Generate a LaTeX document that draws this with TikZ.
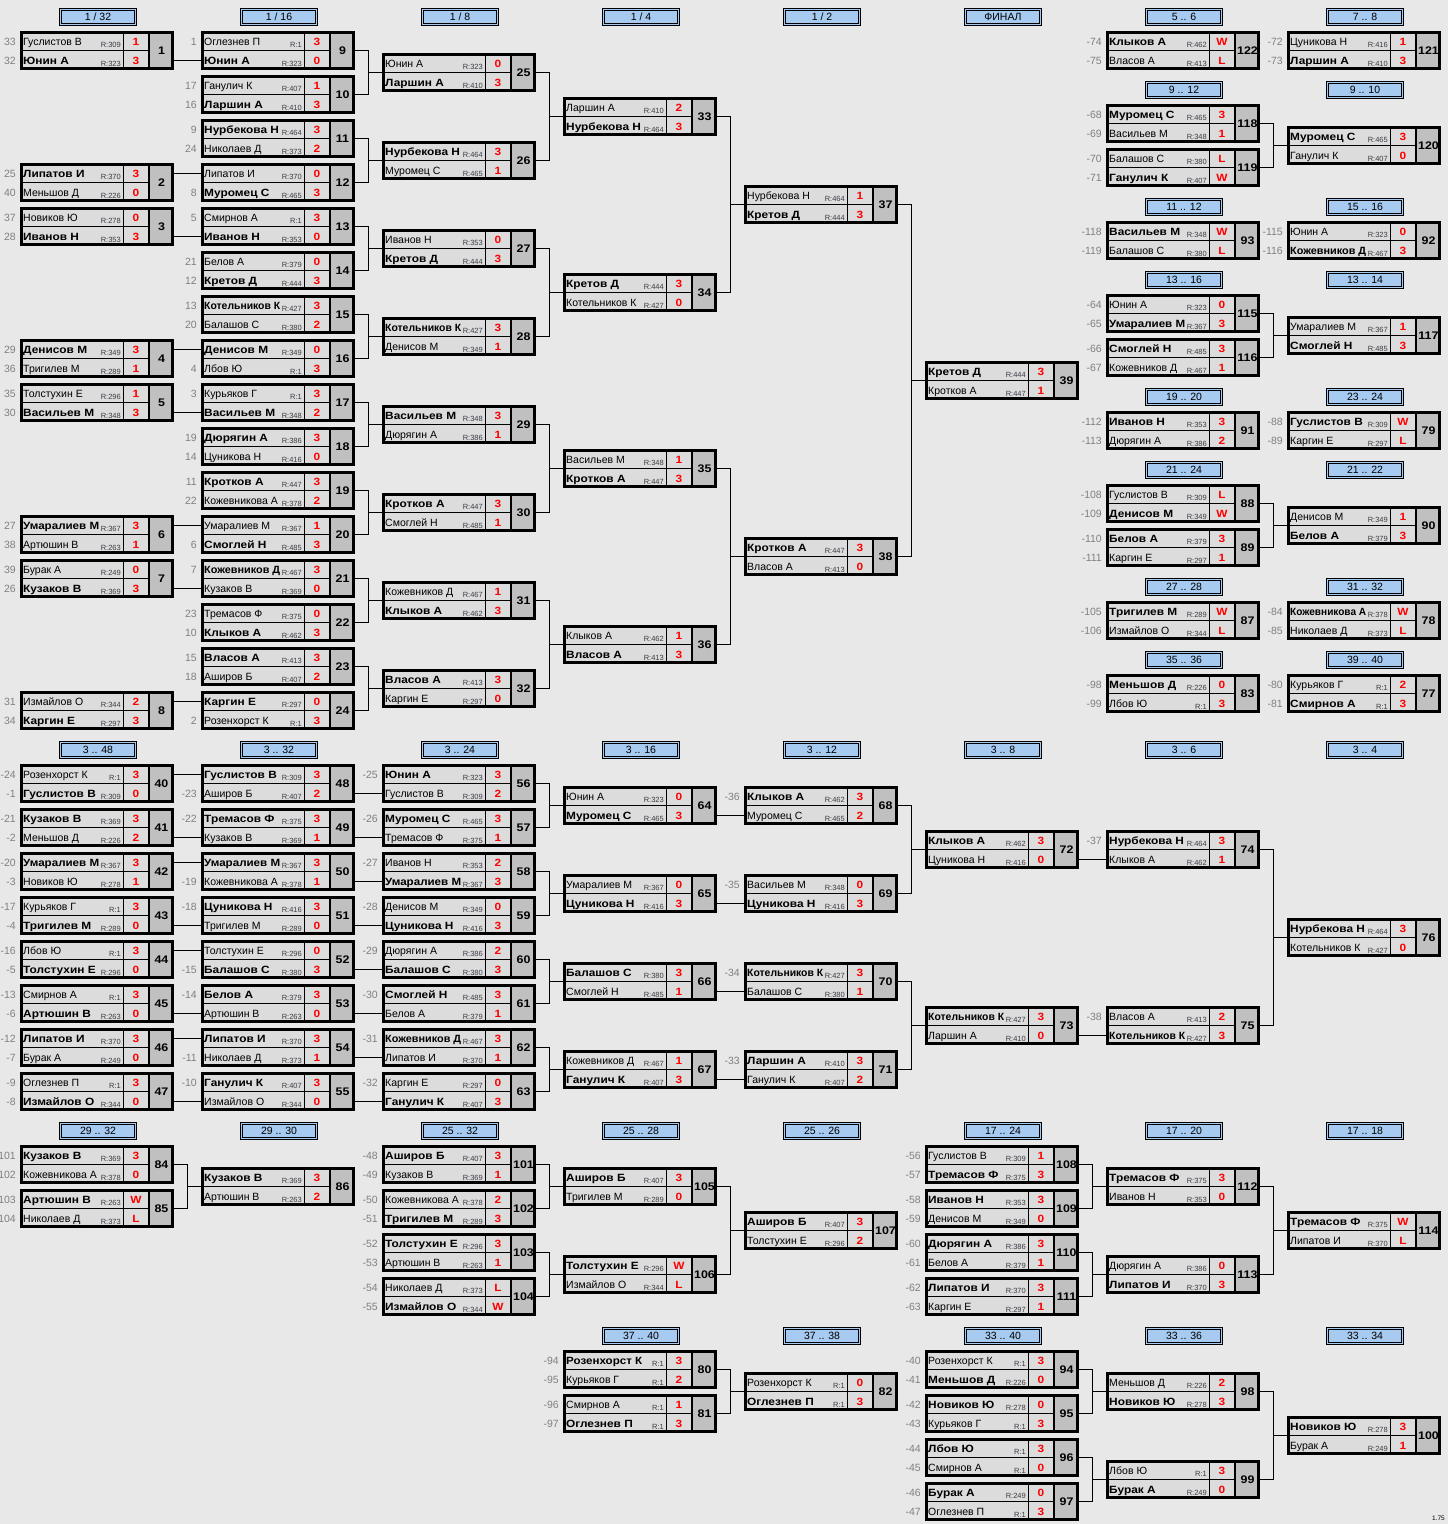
\documentclass[tikz,border=0pt]{standalone}
\usepackage{graphicx}
\usepackage{fontspec}
\setmainfont{Liberation Sans}[BoldFeatures={FakeStretch=1.13}]
\definecolor{bg}{HTML}{E8E8E8}
\definecolor{cellgray}{HTML}{DCDCDC}
\definecolor{numgray}{HTML}{C0C0C0}
\definecolor{skyblue}{HTML}{A6CAF0}
\definecolor{seedgray}{HTML}{808080}
\definecolor{ratecol}{HTML}{3C3C46}
\tikzset{
  wire/.style={line width=1pt},
  mbox/.style={minimum width=154pt, minimum height=39pt, inner sep=0pt, outer sep=0pt},
  hbox/.style={draw=black, line width=0.7pt, double=skyblue, double distance=1.4pt, fill=skyblue,
    minimum width=75.5pt, minimum height=15.5pt, inner sep=0pt, font=\fontsize{10.5}{12}\selectfont},
  seedlbl/.style={anchor=base east, inner sep=0pt, text=seedgray, font=\fontsize{10.5}{12}\selectfont},
  namelbl/.style={anchor=base west, inner sep=0pt, font=\fontsize{10.5}{12}\selectfont},
  ratelbl/.style={anchor=base east, inner sep=0pt, text=ratecol, font=\fontsize{7.5}{8}\selectfont},
  scorelbl/.style={anchor=base, inner sep=0pt, text=red, font=\fontsize{10.5}{12}\selectfont\bfseries},
  numlbl/.style={inner sep=0pt, font=\fontsize{11}{12}\selectfont\bfseries}
}
\newsavebox{\nmbox}
\newcommand{\fitname}[1]{\sbox{\nmbox}{#1}\ifdim\wd\nmbox>76pt\resizebox{76pt}{\height}{\usebox{\nmbox}}\else\usebox{\nmbox}\fi}
\newcommand{\mtc}[3]{
\fill[cellgray] (#2,#3) rectangle ++(129,39);
\fill[numgray] (#2+129,#3) rectangle ++(25,39);
\draw[line width=0.8pt] (#2,#3+19.5) -- ++(129,0);
\draw[line width=0.8pt] (#2+103,#3) -- ++(0,39);
\draw[line width=1.4pt] (#2+129,#3) -- ++(0,39);
\draw[line width=2.6pt] (#2+1.3,#3+1.3) rectangle ++(151.4,36.4);
\node[mbox] (m#1) at (#2+77,#3+19.5) {};
\node[numlbl] at (#2+141.5,#3+19.5) {#1};
\coordinate (m#1a) at (#2,#3+10.5);
\coordinate (m#1b) at (#2,#3+29.5);}
\newcommand{\plr}[6]{
\node[seedlbl] at ([xshift=-4pt,yshift=-4.3pt]m#1#2) {#3};
\node[namelbl] at ([xshift=3pt,yshift=-4.3pt]m#1#2) {\fitname{#4}};
\node[ratelbl] at ([xshift=101pt,yshift=-6.2pt]m#1#2) {R:#5};
\node[scorelbl] at ([xshift=116pt,yshift=-4.3pt]m#1#2) {#6};}
\newcommand{\plw}[6]{\plr{#1}{#2}{#3}{\textbf{#4}}{#5}{#6}}
\newcommand{\hdr}[4]{\node[hbox] (#1) at (#2+78,#3+9) {#4};}
\newcommand{\brk}[3]{
\draw[wire] (m#1.east) -- ++(13.5,0) |- (m#3.west);
\draw[wire] (m#2.east) -- ++(13.5,0) |- (m#3.west);}
\newcommand{\feed}[2]{\draw[wire] (m#1.east |- m#2) -- (m#2);}
\begin{document}
\begin{tikzpicture}[x=1pt,y=-1pt]
\fill[bg] (0,0) rectangle (1448,1524);
\useasboundingbox (0,0) rectangle (1448,1524);

\hdr{hA1}{20}{8}{1 / 32}
\hdr{hA2}{201}{8}{1 / 16}
\hdr{hA3}{382}{8}{1 / 8}
\hdr{hA4}{563}{8}{1 / 4}
\hdr{hA5}{744}{8}{1 / 2}
\hdr{hA6}{925}{8}{ФИНАЛ}
\hdr{hA7}{1106}{8}{5 .. 6}
\hdr{hA8}{1287}{8}{7 .. 8}
\hdr{hB7}{1106}{81}{9 .. 12}
\hdr{hB8}{1287}{81}{9 .. 10}
\hdr{hC7}{1106}{198}{11 .. 12}
\hdr{hC8}{1287}{198}{15 .. 16}
\hdr{hD7}{1106}{271}{13 .. 16}
\hdr{hD8}{1287}{271}{13 .. 14}
\hdr{hE7}{1106}{388}{19 .. 20}
\hdr{hE8}{1287}{388}{23 .. 24}
\hdr{hF7}{1106}{461}{21 .. 24}
\hdr{hF8}{1287}{461}{21 .. 22}
\hdr{hG7}{1106}{578}{27 .. 28}
\hdr{hG8}{1287}{578}{31 .. 32}
\hdr{hH7}{1106}{651}{35 .. 36}
\hdr{hH8}{1287}{651}{39 .. 40}
\hdr{hK1}{20}{741}{3 .. 48}
\hdr{hK2}{201}{741}{3 .. 32}
\hdr{hK3}{382}{741}{3 .. 24}
\hdr{hK4}{563}{741}{3 .. 16}
\hdr{hK5}{744}{741}{3 .. 12}
\hdr{hK6}{925}{741}{3 .. 8}
\hdr{hK7}{1106}{741}{3 .. 6}
\hdr{hK8}{1287}{741}{3 .. 4}
\hdr{hL1}{20}{1122}{29 .. 32}
\hdr{hL2}{201}{1122}{29 .. 30}
\hdr{hL3}{382}{1122}{25 .. 32}
\hdr{hL4}{563}{1122}{25 .. 28}
\hdr{hL5}{744}{1122}{25 .. 26}
\hdr{hL6}{925}{1122}{17 .. 24}
\hdr{hL7}{1106}{1122}{17 .. 20}
\hdr{hL8}{1287}{1122}{17 .. 18}
\hdr{hM4}{563}{1327}{37 .. 40}
\hdr{hM5}{744}{1327}{37 .. 38}
\hdr{hM6}{925}{1327}{33 .. 40}
\hdr{hM7}{1106}{1327}{33 .. 36}
\hdr{hM8}{1287}{1327}{33 .. 34}

\mtc{1}{20}{31}
\plr{1}{a}{33}{Гуслистов В}{309}{1}
\plw{1}{b}{32}{Юнин А}{323}{3}
\mtc{2}{20}{163}
\plw{2}{a}{25}{Липатов И}{370}{3}
\plr{2}{b}{40}{Меньшов Д}{226}{0}
\mtc{3}{20}{207}
\plr{3}{a}{37}{Новиков Ю}{278}{0}
\plw{3}{b}{28}{Иванов Н}{353}{3}
\mtc{4}{20}{339}
\plw{4}{a}{29}{Денисов М}{349}{3}
\plr{4}{b}{36}{Тригилев М}{289}{1}
\mtc{5}{20}{383}
\plr{5}{a}{35}{Толстухин Е}{296}{1}
\plw{5}{b}{30}{Васильев М}{348}{3}
\mtc{6}{20}{515}
\plw{6}{a}{27}{Умаралиев М}{367}{3}
\plr{6}{b}{38}{Артюшин В}{263}{1}
\mtc{7}{20}{559}
\plr{7}{a}{39}{Бурак А}{249}{0}
\plw{7}{b}{26}{Кузаков В}{369}{3}
\mtc{8}{20}{691}
\plr{8}{a}{31}{Измайлов О}{344}{2}
\plw{8}{b}{34}{Каргин Е}{297}{3}

\mtc{9}{201}{31}
\plr{9}{a}{1}{Оглезнев П}{1}{3}
\plw{9}{b}{}{Юнин А}{323}{0}
\mtc{10}{201}{75}
\plr{10}{a}{17}{Ганулич К}{407}{1}
\plw{10}{b}{16}{Ларшин А}{410}{3}
\mtc{11}{201}{119}
\plw{11}{a}{9}{Нурбекова Н}{464}{3}
\plr{11}{b}{24}{Николаев Д}{373}{2}
\mtc{12}{201}{163}
\plr{12}{a}{}{Липатов И}{370}{0}
\plw{12}{b}{8}{Муромец С}{465}{3}
\mtc{13}{201}{207}
\plr{13}{a}{5}{Смирнов А}{1}{3}
\plw{13}{b}{}{Иванов Н}{353}{0}
\mtc{14}{201}{251}
\plr{14}{a}{21}{Белов А}{379}{0}
\plw{14}{b}{12}{Кретов Д}{444}{3}
\mtc{15}{201}{295}
\plw{15}{a}{13}{Котельников К}{427}{3}
\plr{15}{b}{20}{Балашов С}{380}{2}
\mtc{16}{201}{339}
\plw{16}{a}{}{Денисов М}{349}{0}
\plr{16}{b}{4}{Лбов Ю}{1}{3}
\mtc{17}{201}{383}
\plr{17}{a}{3}{Курьяков Г}{1}{3}
\plw{17}{b}{}{Васильев М}{348}{2}
\mtc{18}{201}{427}
\plw{18}{a}{19}{Дюрягин А}{386}{3}
\plr{18}{b}{14}{Цуникова Н}{416}{0}
\mtc{19}{201}{471}
\plw{19}{a}{11}{Кротков А}{447}{3}
\plr{19}{b}{22}{Кожевникова А}{378}{2}
\mtc{20}{201}{515}
\plr{20}{a}{}{Умаралиев М}{367}{1}
\plw{20}{b}{6}{Смоглей Н}{485}{3}
\mtc{21}{201}{559}
\plw{21}{a}{7}{Кожевников Д}{467}{3}
\plr{21}{b}{}{Кузаков В}{369}{0}
\mtc{22}{201}{603}
\plr{22}{a}{23}{Тремасов Ф}{375}{0}
\plw{22}{b}{10}{Клыков А}{462}{3}
\mtc{23}{201}{647}
\plw{23}{a}{15}{Власов А}{413}{3}
\plr{23}{b}{18}{Аширов Б}{407}{2}
\mtc{24}{201}{691}
\plw{24}{a}{}{Каргин Е}{297}{0}
\plr{24}{b}{2}{Розенхорст К}{1}{3}

\mtc{25}{382}{53}
\plr{25}{a}{}{Юнин А}{323}{0}
\plw{25}{b}{}{Ларшин А}{410}{3}
\mtc{26}{382}{141}
\plw{26}{a}{}{Нурбекова Н}{464}{3}
\plr{26}{b}{}{Муромец С}{465}{1}
\mtc{27}{382}{229}
\plr{27}{a}{}{Иванов Н}{353}{0}
\plw{27}{b}{}{Кретов Д}{444}{3}
\mtc{28}{382}{317}
\plw{28}{a}{}{Котельников К}{427}{3}
\plr{28}{b}{}{Денисов М}{349}{1}
\mtc{29}{382}{405}
\plw{29}{a}{}{Васильев М}{348}{3}
\plr{29}{b}{}{Дюрягин А}{386}{1}
\mtc{30}{382}{493}
\plw{30}{a}{}{Кротков А}{447}{3}
\plr{30}{b}{}{Смоглей Н}{485}{1}
\mtc{31}{382}{581}
\plr{31}{a}{}{Кожевников Д}{467}{1}
\plw{31}{b}{}{Клыков А}{462}{3}
\mtc{32}{382}{669}
\plw{32}{a}{}{Власов А}{413}{3}
\plr{32}{b}{}{Каргин Е}{297}{0}

\mtc{33}{563}{97}
\plr{33}{a}{}{Ларшин А}{410}{2}
\plw{33}{b}{}{Нурбекова Н}{464}{3}
\mtc{34}{563}{273}
\plw{34}{a}{}{Кретов Д}{444}{3}
\plr{34}{b}{}{Котельников К}{427}{0}
\mtc{35}{563}{449}
\plr{35}{a}{}{Васильев М}{348}{1}
\plw{35}{b}{}{Кротков А}{447}{3}
\mtc{36}{563}{625}
\plr{36}{a}{}{Клыков А}{462}{1}
\plw{36}{b}{}{Власов А}{413}{3}

\mtc{37}{744}{185}
\plr{37}{a}{}{Нурбекова Н}{464}{1}
\plw{37}{b}{}{Кретов Д}{444}{3}
\mtc{38}{744}{537}
\plw{38}{a}{}{Кротков А}{447}{3}
\plr{38}{b}{}{Власов А}{413}{0}

\mtc{39}{925}{361}
\plw{39}{a}{}{Кретов Д}{444}{3}
\plr{39}{b}{}{Кротков А}{447}{1}

\mtc{122}{1106}{31}
\plw{122}{a}{-74}{Клыков А}{462}{W}
\plr{122}{b}{-75}{Власов А}{413}{L}
\mtc{118}{1106}{104}
\plw{118}{a}{-68}{Муромец С}{465}{3}
\plr{118}{b}{-69}{Васильев М}{348}{1}
\mtc{119}{1106}{148}
\plr{119}{a}{-70}{Балашов С}{380}{L}
\plw{119}{b}{-71}{Ганулич К}{407}{W}
\mtc{93}{1106}{221}
\plw{93}{a}{-118}{Васильев М}{348}{W}
\plr{93}{b}{-119}{Балашов С}{380}{L}
\mtc{115}{1106}{294}
\plr{115}{a}{-64}{Юнин А}{323}{0}
\plw{115}{b}{-65}{Умаралиев М}{367}{3}
\mtc{116}{1106}{338}
\plw{116}{a}{-66}{Смоглей Н}{485}{3}
\plr{116}{b}{-67}{Кожевников Д}{467}{1}
\mtc{91}{1106}{411}
\plw{91}{a}{-112}{Иванов Н}{353}{3}
\plr{91}{b}{-113}{Дюрягин А}{386}{2}
\mtc{88}{1106}{484}
\plr{88}{a}{-108}{Гуслистов В}{309}{L}
\plw{88}{b}{-109}{Денисов М}{349}{W}
\mtc{89}{1106}{528}
\plw{89}{a}{-110}{Белов А}{379}{3}
\plr{89}{b}{-111}{Каргин Е}{297}{1}
\mtc{87}{1106}{601}
\plw{87}{a}{-105}{Тригилев М}{289}{W}
\plr{87}{b}{-106}{Измайлов О}{344}{L}
\mtc{83}{1106}{674}
\plw{83}{a}{-98}{Меньшов Д}{226}{0}
\plr{83}{b}{-99}{Лбов Ю}{1}{3}

\mtc{121}{1287}{31}
\plr{121}{a}{-72}{Цуникова Н}{416}{1}
\plw{121}{b}{-73}{Ларшин А}{410}{3}
\mtc{120}{1287}{126}
\plw{120}{a}{}{Муромец С}{465}{3}
\plr{120}{b}{}{Ганулич К}{407}{0}
\mtc{92}{1287}{221}
\plr{92}{a}{-115}{Юнин А}{323}{0}
\plw{92}{b}{-116}{Кожевников Д}{467}{3}
\mtc{117}{1287}{316}
\plr{117}{a}{}{Умаралиев М}{367}{1}
\plw{117}{b}{}{Смоглей Н}{485}{3}
\mtc{79}{1287}{411}
\plw{79}{a}{-88}{Гуслистов В}{309}{W}
\plr{79}{b}{-89}{Каргин Е}{297}{L}
\mtc{90}{1287}{506}
\plr{90}{a}{}{Денисов М}{349}{1}
\plw{90}{b}{}{Белов А}{379}{3}
\mtc{78}{1287}{601}
\plw{78}{a}{-84}{Кожевникова А}{378}{W}
\plr{78}{b}{-85}{Николаев Д}{373}{L}
\mtc{77}{1287}{674}
\plr{77}{a}{-80}{Курьяков Г}{1}{2}
\plw{77}{b}{-81}{Смирнов А}{1}{3}

\mtc{40}{20}{764}
\plr{40}{a}{-24}{Розенхорст К}{1}{3}
\plw{40}{b}{-1}{Гуслистов В}{309}{0}
\mtc{41}{20}{808}
\plw{41}{a}{-21}{Кузаков В}{369}{3}
\plr{41}{b}{-2}{Меньшов Д}{226}{2}
\mtc{42}{20}{852}
\plw{42}{a}{-20}{Умаралиев М}{367}{3}
\plr{42}{b}{-3}{Новиков Ю}{278}{1}
\mtc{43}{20}{896}
\plr{43}{a}{-17}{Курьяков Г}{1}{3}
\plw{43}{b}{-4}{Тригилев М}{289}{0}
\mtc{44}{20}{940}
\plr{44}{a}{-16}{Лбов Ю}{1}{3}
\plw{44}{b}{-5}{Толстухин Е}{296}{0}
\mtc{45}{20}{984}
\plr{45}{a}{-13}{Смирнов А}{1}{3}
\plw{45}{b}{-6}{Артюшин В}{263}{0}
\mtc{46}{20}{1028}
\plw{46}{a}{-12}{Липатов И}{370}{3}
\plr{46}{b}{-7}{Бурак А}{249}{0}
\mtc{47}{20}{1072}
\plr{47}{a}{-9}{Оглезнев П}{1}{3}
\plw{47}{b}{-8}{Измайлов О}{344}{0}

\mtc{48}{201}{764}
\plw{48}{a}{}{Гуслистов В}{309}{3}
\plr{48}{b}{-23}{Аширов Б}{407}{2}
\mtc{49}{201}{808}
\plw{49}{a}{-22}{Тремасов Ф}{375}{3}
\plr{49}{b}{}{Кузаков В}{369}{1}
\mtc{50}{201}{852}
\plw{50}{a}{}{Умаралиев М}{367}{3}
\plr{50}{b}{-19}{Кожевникова А}{378}{1}
\mtc{51}{201}{896}
\plw{51}{a}{-18}{Цуникова Н}{416}{3}
\plr{51}{b}{}{Тригилев М}{289}{0}
\mtc{52}{201}{940}
\plr{52}{a}{}{Толстухин Е}{296}{0}
\plw{52}{b}{-15}{Балашов С}{380}{3}
\mtc{53}{201}{984}
\plw{53}{a}{-14}{Белов А}{379}{3}
\plr{53}{b}{}{Артюшин В}{263}{0}
\mtc{54}{201}{1028}
\plw{54}{a}{}{Липатов И}{370}{3}
\plr{54}{b}{-11}{Николаев Д}{373}{1}
\mtc{55}{201}{1072}
\plw{55}{a}{-10}{Ганулич К}{407}{3}
\plr{55}{b}{}{Измайлов О}{344}{0}

\mtc{56}{382}{764}
\plw{56}{a}{-25}{Юнин А}{323}{3}
\plr{56}{b}{}{Гуслистов В}{309}{2}
\mtc{57}{382}{808}
\plw{57}{a}{-26}{Муромец С}{465}{3}
\plr{57}{b}{}{Тремасов Ф}{375}{1}
\mtc{58}{382}{852}
\plr{58}{a}{-27}{Иванов Н}{353}{2}
\plw{58}{b}{}{Умаралиев М}{367}{3}
\mtc{59}{382}{896}
\plr{59}{a}{-28}{Денисов М}{349}{0}
\plw{59}{b}{}{Цуникова Н}{416}{3}
\mtc{60}{382}{940}
\plr{60}{a}{-29}{Дюрягин А}{386}{2}
\plw{60}{b}{}{Балашов С}{380}{3}
\mtc{61}{382}{984}
\plw{61}{a}{-30}{Смоглей Н}{485}{3}
\plr{61}{b}{}{Белов А}{379}{1}
\mtc{62}{382}{1028}
\plw{62}{a}{-31}{Кожевников Д}{467}{3}
\plr{62}{b}{}{Липатов И}{370}{1}
\mtc{63}{382}{1072}
\plr{63}{a}{-32}{Каргин Е}{297}{0}
\plw{63}{b}{}{Ганулич К}{407}{3}

\mtc{64}{563}{786}
\plr{64}{a}{}{Юнин А}{323}{0}
\plw{64}{b}{}{Муромец С}{465}{3}
\mtc{65}{563}{874}
\plr{65}{a}{}{Умаралиев М}{367}{0}
\plw{65}{b}{}{Цуникова Н}{416}{3}
\mtc{66}{563}{962}
\plw{66}{a}{}{Балашов С}{380}{3}
\plr{66}{b}{}{Смоглей Н}{485}{1}
\mtc{67}{563}{1050}
\plr{67}{a}{}{Кожевников Д}{467}{1}
\plw{67}{b}{}{Ганулич К}{407}{3}

\mtc{68}{744}{786}
\plw{68}{a}{-36}{Клыков А}{462}{3}
\plr{68}{b}{}{Муромец С}{465}{2}
\mtc{69}{744}{874}
\plr{69}{a}{-35}{Васильев М}{348}{0}
\plw{69}{b}{}{Цуникова Н}{416}{3}
\mtc{70}{744}{962}
\plw{70}{a}{-34}{Котельников К}{427}{3}
\plr{70}{b}{}{Балашов С}{380}{1}
\mtc{71}{744}{1050}
\plw{71}{a}{-33}{Ларшин А}{410}{3}
\plr{71}{b}{}{Ганулич К}{407}{2}

\mtc{72}{925}{830}
\plw{72}{a}{}{Клыков А}{462}{3}
\plr{72}{b}{}{Цуникова Н}{416}{0}
\mtc{73}{925}{1006}
\plw{73}{a}{}{Котельников К}{427}{3}
\plr{73}{b}{}{Ларшин А}{410}{0}

\mtc{74}{1106}{830}
\plw{74}{a}{-37}{Нурбекова Н}{464}{3}
\plr{74}{b}{}{Клыков А}{462}{1}
\mtc{75}{1106}{1006}
\plr{75}{a}{-38}{Власов А}{413}{2}
\plw{75}{b}{}{Котельников К}{427}{3}

\mtc{76}{1287}{918}
\plw{76}{a}{}{Нурбекова Н}{464}{3}
\plr{76}{b}{}{Котельников К}{427}{0}

\mtc{84}{20}{1145}
\plw{84}{a}{101}{Кузаков В}{369}{3}
\plr{84}{b}{102}{Кожевникова А}{378}{0}
\mtc{85}{20}{1189}
\plw{85}{a}{103}{Артюшин В}{263}{W}
\plr{85}{b}{104}{Николаев Д}{373}{L}
\mtc{86}{201}{1167}
\plw{86}{a}{}{Кузаков В}{369}{3}
\plr{86}{b}{}{Артюшин В}{263}{2}

\mtc{101}{382}{1145}
\plw{101}{a}{-48}{Аширов Б}{407}{3}
\plr{101}{b}{-49}{Кузаков В}{369}{1}
\mtc{102}{382}{1189}
\plr{102}{a}{-50}{Кожевникова А}{378}{2}
\plw{102}{b}{-51}{Тригилев М}{289}{3}
\mtc{103}{382}{1233}
\plw{103}{a}{-52}{Толстухин Е}{296}{3}
\plr{103}{b}{-53}{Артюшин В}{263}{1}
\mtc{104}{382}{1277}
\plr{104}{a}{-54}{Николаев Д}{373}{L}
\plw{104}{b}{-55}{Измайлов О}{344}{W}
\mtc{105}{563}{1167}
\plw{105}{a}{}{Аширов Б}{407}{3}
\plr{105}{b}{}{Тригилев М}{289}{0}
\mtc{106}{563}{1255}
\plw{106}{a}{}{Толстухин Е}{296}{W}
\plr{106}{b}{}{Измайлов О}{344}{L}
\mtc{107}{744}{1211}
\plw{107}{a}{}{Аширов Б}{407}{3}
\plr{107}{b}{}{Толстухин Е}{296}{2}

\mtc{108}{925}{1145}
\plr{108}{a}{-56}{Гуслистов В}{309}{1}
\plw{108}{b}{-57}{Тремасов Ф}{375}{3}
\mtc{109}{925}{1189}
\plw{109}{a}{-58}{Иванов Н}{353}{3}
\plr{109}{b}{-59}{Денисов М}{349}{0}
\mtc{110}{925}{1233}
\plw{110}{a}{-60}{Дюрягин А}{386}{3}
\plr{110}{b}{-61}{Белов А}{379}{1}
\mtc{111}{925}{1277}
\plw{111}{a}{-62}{Липатов И}{370}{3}
\plr{111}{b}{-63}{Каргин Е}{297}{1}
\mtc{112}{1106}{1167}
\plw{112}{a}{}{Тремасов Ф}{375}{3}
\plr{112}{b}{}{Иванов Н}{353}{0}
\mtc{113}{1106}{1255}
\plr{113}{a}{}{Дюрягин А}{386}{0}
\plw{113}{b}{}{Липатов И}{370}{3}
\mtc{114}{1287}{1211}
\plw{114}{a}{}{Тремасов Ф}{375}{W}
\plr{114}{b}{}{Липатов И}{370}{L}

\mtc{80}{563}{1350}
\plw{80}{a}{-94}{Розенхорст К}{1}{3}
\plr{80}{b}{-95}{Курьяков Г}{1}{2}
\mtc{81}{563}{1394}
\plr{81}{a}{-96}{Смирнов А}{1}{1}
\plw{81}{b}{-97}{Оглезнев П}{1}{3}
\mtc{82}{744}{1372}
\plr{82}{a}{}{Розенхорст К}{1}{0}
\plw{82}{b}{}{Оглезнев П}{1}{3}

\mtc{94}{925}{1350}
\plr{94}{a}{-40}{Розенхорст К}{1}{3}
\plw{94}{b}{-41}{Меньшов Д}{226}{0}
\mtc{95}{925}{1394}
\plw{95}{a}{-42}{Новиков Ю}{278}{0}
\plr{95}{b}{-43}{Курьяков Г}{1}{3}
\mtc{96}{925}{1438}
\plw{96}{a}{-44}{Лбов Ю}{1}{3}
\plr{96}{b}{-45}{Смирнов А}{1}{0}
\mtc{97}{925}{1482}
\plw{97}{a}{-46}{Бурак А}{249}{0}
\plr{97}{b}{-47}{Оглезнев П}{1}{3}
\mtc{98}{1106}{1372}
\plr{98}{a}{}{Меньшов Д}{226}{2}
\plw{98}{b}{}{Новиков Ю}{278}{3}
\mtc{99}{1106}{1460}
\plr{99}{a}{}{Лбов Ю}{1}{3}
\plw{99}{b}{}{Бурак А}{249}{0}
\mtc{100}{1287}{1416}
\plw{100}{a}{}{Новиков Ю}{278}{3}
\plr{100}{b}{}{Бурак А}{249}{1}

\feed{1}{9b}
\feed{2}{12a}
\feed{3}{13b}
\feed{4}{16a}
\feed{5}{17b}
\feed{6}{20a}
\feed{7}{21b}
\feed{8}{24a}
\brk{9}{10}{25}
\brk{11}{12}{26}
\brk{13}{14}{27}
\brk{15}{16}{28}
\brk{17}{18}{29}
\brk{19}{20}{30}
\brk{21}{22}{31}
\brk{23}{24}{32}
\brk{25}{26}{33}
\brk{27}{28}{34}
\brk{29}{30}{35}
\brk{31}{32}{36}
\brk{33}{34}{37}
\brk{35}{36}{38}
\brk{37}{38}{39}
\brk{118}{119}{120}
\brk{115}{116}{117}
\brk{88}{89}{90}

\feed{40}{48a}
\feed{41}{49b}
\feed{42}{50a}
\feed{43}{51b}
\feed{44}{52a}
\feed{45}{53b}
\feed{46}{54a}
\feed{47}{55b}
\feed{48}{56b}
\feed{49}{57b}
\feed{50}{58b}
\feed{51}{59b}
\feed{52}{60b}
\feed{53}{61b}
\feed{54}{62b}
\feed{55}{63b}
\brk{56}{57}{64}
\brk{58}{59}{65}
\brk{60}{61}{66}
\brk{62}{63}{67}
\feed{64}{68b}
\feed{65}{69b}
\feed{66}{70b}
\feed{67}{71b}
\brk{68}{69}{72}
\brk{70}{71}{73}
\feed{72}{74b}
\feed{73}{75b}
\brk{74}{75}{76}

\brk{84}{85}{86}
\brk{101}{102}{105}
\brk{103}{104}{106}
\brk{105}{106}{107}
\brk{108}{109}{112}
\brk{110}{111}{113}
\brk{112}{113}{114}
\brk{80}{81}{82}
\brk{94}{95}{98}
\brk{96}{97}{99}
\brk{98}{99}{100}

\node[anchor=base east, inner sep=0pt, font=\fontsize{6.5}{7}\selectfont] (ver) at (1445,1520) {1.75};
\end{tikzpicture}
\end{document}
